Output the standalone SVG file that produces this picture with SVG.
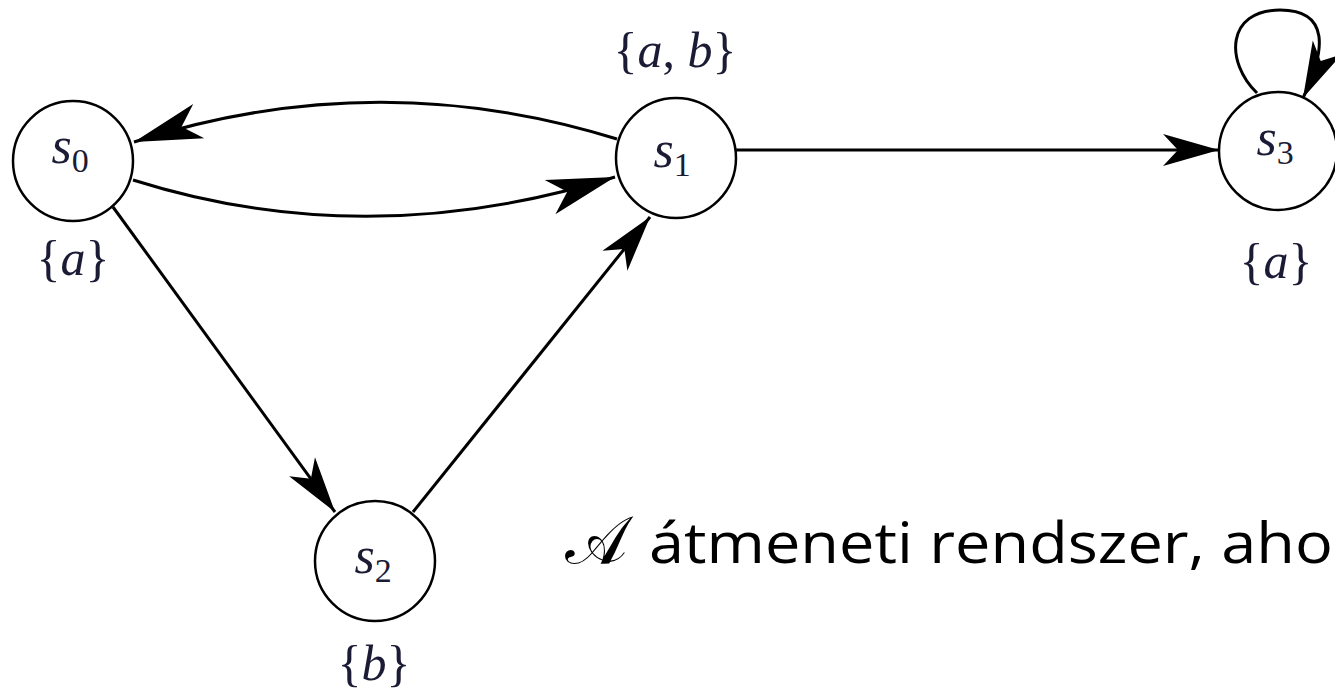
<svg xmlns="http://www.w3.org/2000/svg" width="1335" height="691" viewBox="0 0 1335 691">
  <style>
    .node { fill: #ffffff; stroke: #000000; stroke-width: 2.5; }
    .edge { fill: none; stroke: #000000; stroke-width: 3; }
    .math { font-family: "Liberation Serif", "Times New Roman", serif; fill: #1b1b35; }
    .var { font-style: italic; font-size: 52px; }
    .sub { font-style: normal; font-size: 34px; }
    .lbl { font-size: 50px; }
    .caption { font-family: "Open Sans", "Noto Sans", sans-serif; font-size: 57px; fill: #000000; }
  </style>
  <defs>
    <marker id="arrow" markerUnits="userSpaceOnUse" orient="auto" markerWidth="70" markerHeight="40" refX="60" refY="20" viewBox="0 0 70 40">
      <path d="M60,20 L4,4 L19,20 L4,36 Z" fill="#000000"/>
    </marker>
    <marker id="arrowLong" markerUnits="userSpaceOnUse" orient="auto" markerWidth="80" markerHeight="44" refX="72" refY="22" viewBox="0 0 80 44">
      <path d="M72,22 L4,4 L22,22 L4,40 Z" fill="#000000"/>
    </marker>
  </defs>

  <g id="connectors">
    <path class="edge" d="M617,139 Q376,64 134,142" marker-end="url(#arrowLong)"/>
    <path class="edge" d="M133,180 Q367,254 615,177" marker-end="url(#arrowLong)"/>
    <path class="edge" d="M113,207 L335,512" marker-end="url(#arrow)"/>
    <path class="edge" d="M413,512 L650,217" marker-end="url(#arrow)"/>
    <path class="edge" d="M736,150 L1219,150" marker-end="url(#arrow)"/>
    <path class="edge" d="M1257,93 C1225,62 1226,10 1280,10 C1330,10 1326,50 1303,98" marker-end="url(#arrow)"/>
  </g>

  <g id="s0">
    <circle class="node" cx="73" cy="161" r="60"/>
    <text class="math" x="70" y="163" text-anchor="middle"><tspan class="var">s</tspan><tspan class="sub" dy="9">0</tspan></text>
    <text class="math lbl" x="73" y="275" text-anchor="middle">{<tspan font-style="italic">a</tspan>}</text>
  </g>

  <g id="s1">
    <circle class="node" cx="676" cy="158" r="60"/>
    <text class="math" x="672" y="167" text-anchor="middle"><tspan class="var">s</tspan><tspan class="sub" dy="9">1</tspan></text>
    <text class="math lbl" x="675" y="67" text-anchor="middle">{<tspan font-style="italic">a</tspan>, <tspan font-style="italic">b</tspan>}</text>
  </g>

  <g id="s2">
    <circle class="node" cx="375" cy="561" r="60"/>
    <text class="math" x="373" y="573" text-anchor="middle"><tspan class="var">s</tspan><tspan class="sub" dy="9">2</tspan></text>
    <text class="math lbl" x="374" y="680" text-anchor="middle">{<tspan font-style="italic">b</tspan>}</text>
  </g>

  <g id="s3">
    <circle class="node" cx="1278" cy="151" r="59"/>
    <text class="math" x="1275" y="155" text-anchor="middle"><tspan class="var">s</tspan><tspan class="sub" dy="9">3</tspan></text>
    <text class="math lbl" x="1276" y="278" text-anchor="middle">{<tspan font-style="italic">a</tspan>}</text>
  </g>

  <g id="caption">
    <text class="caption" x="565" y="563"><tspan font-family="DejaVu Serif, DejaVu Sans, serif" font-size="66px">𝒜</tspan></text>
    <text class="caption" x="649" y="563" textLength="684" lengthAdjust="spacingAndGlyphs">átmeneti rendszer, aho</text>
  </g>
</svg>
